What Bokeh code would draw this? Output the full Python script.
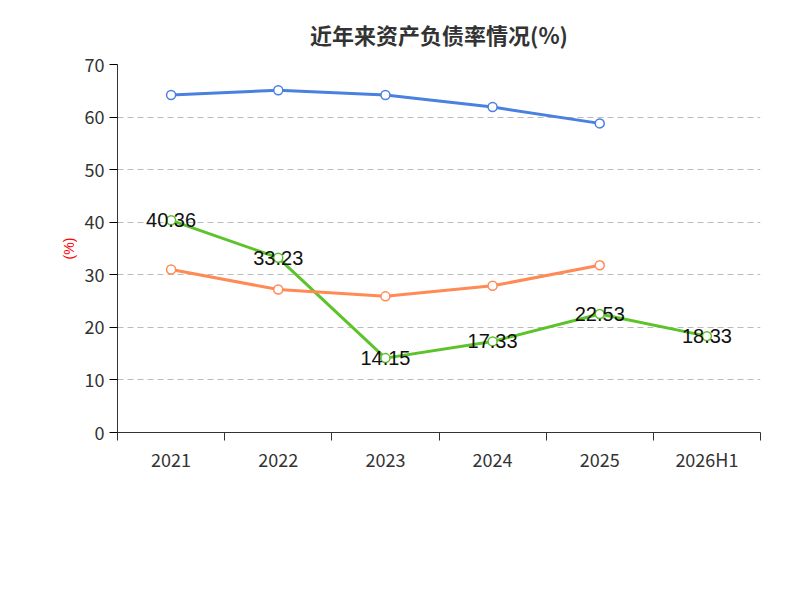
from bokeh.plotting import figure
from bokeh.models import FixedTicker, Legend, LegendItem, Label, ColumnDataSource
from bokeh.embed import file_html
from bokeh.resources import INLINE

years = ["2021", "2022", "2023", "2024", "2025", "2026H1"]
company = [40.36, 33.23, 14.15, 17.33, 22.53, 18.33]
ind_mean = [64.2, 65.1, 64.2, 61.9, 58.8]
ind_median = [31.0, 27.2, 25.9, 27.9, 31.8]

FONT = "Noto Sans CJK SC"
p = figure(width=784, height=584, output_backend="svg", toolbar_location=None,
           x_range=(-0.5, 5.5), y_range=(0, 70),
           min_border_left=117, min_border_right=24, min_border_top=20, min_border_bottom=152)
p.title.text = "近年来资产负债率情况(%)"
p.title.align = "center"
p.title.text_font = FONT
p.title.text_font_size = "22px"
p.title.text_color = "#333333"
p.title.standoff = 30
p.outline_line_color = None

xs = list(range(6))
p.xaxis.ticker = FixedTicker(ticks=xs, minor_ticks=[i - 0.5 for i in range(7)])
p.xaxis.major_label_overrides = {i: y for i, y in enumerate(years)}
p.xaxis.major_tick_line_color = None
p.xaxis.major_tick_out = 8
p.xaxis.minor_tick_out = 8
p.xaxis.minor_tick_in = 0
p.xaxis.minor_tick_line_color = "#333333"
p.xaxis.axis_line_color = "#333333"
p.yaxis.ticker = FixedTicker(ticks=list(range(0, 71, 10)))
p.yaxis.minor_tick_line_color = None
p.yaxis.major_tick_out = 8
p.yaxis.major_tick_in = 0
p.yaxis.axis_line_color = "#333333"
for ax in (p.xaxis, p.yaxis):
    ax.major_label_text_font = FONT
    ax.major_label_text_font_size = "18px"
    ax.major_label_text_color = "#333333"
p.yaxis.axis_label = "(%)"
p.yaxis.axis_label_text_color = "red"
p.yaxis.axis_label_text_font_style = "normal"
p.yaxis.axis_label_text_font_size = "14px"
p.xgrid.grid_line_color = None
p.ygrid.grid_line_color = "#bbbbbb"
p.ygrid.grid_line_dash = "6 4"

green, blue, orange = "#5cc32a", "#4a80e0", "#ff8a55"
r1 = p.line(xs, company, line_color=green, line_width=3)
c1 = p.scatter(xs, company, size=9, fill_color="white", line_color=green, line_width=1.5)
r2 = p.line(xs[:5], ind_mean, line_color=blue, line_width=3)
c2 = p.scatter(xs[:5], ind_mean, size=9, fill_color="white", line_color=blue, line_width=1.5)
r3 = p.line(xs[:5], ind_median, line_color=orange, line_width=3)
c3 = p.scatter(xs[:5], ind_median, size=9, fill_color="white", line_color=orange, line_width=1.5)

src = ColumnDataSource(dict(x=xs, y=company, t=[f"{v:.2f}" for v in company]))
p.text("x", "y", text="t", source=src, text_align="center", text_baseline="middle",
       text_font_size="20px", text_color="#111111")

legend = Legend(items=[LegendItem(label="公司资产负债率", renderers=[r1, c1]),
                       LegendItem(label="行业均值", renderers=[r2, c2]),
                       LegendItem(label="行业中位数", renderers=[r3, c3])],
                orientation="horizontal", location=(-35, -118),
                label_text_font=FONT, label_text_font_size="20px", label_text_color="#333333",
                glyph_width=50, glyph_height=24, spacing=20, border_line_color=None,
                background_fill_alpha=0)
p.add_layout(legend, "center")
p.add_layout(Label(x=320, y=-150, x_units="screen", y_units="screen",
                   text="制图数据来自恒生聚源数据库", text_align="center", text_baseline="middle",
                   text_font=FONT, text_font_size="15px", text_color="#c8961e"))

open("out.html", "w").write(file_html(p, INLINE))
